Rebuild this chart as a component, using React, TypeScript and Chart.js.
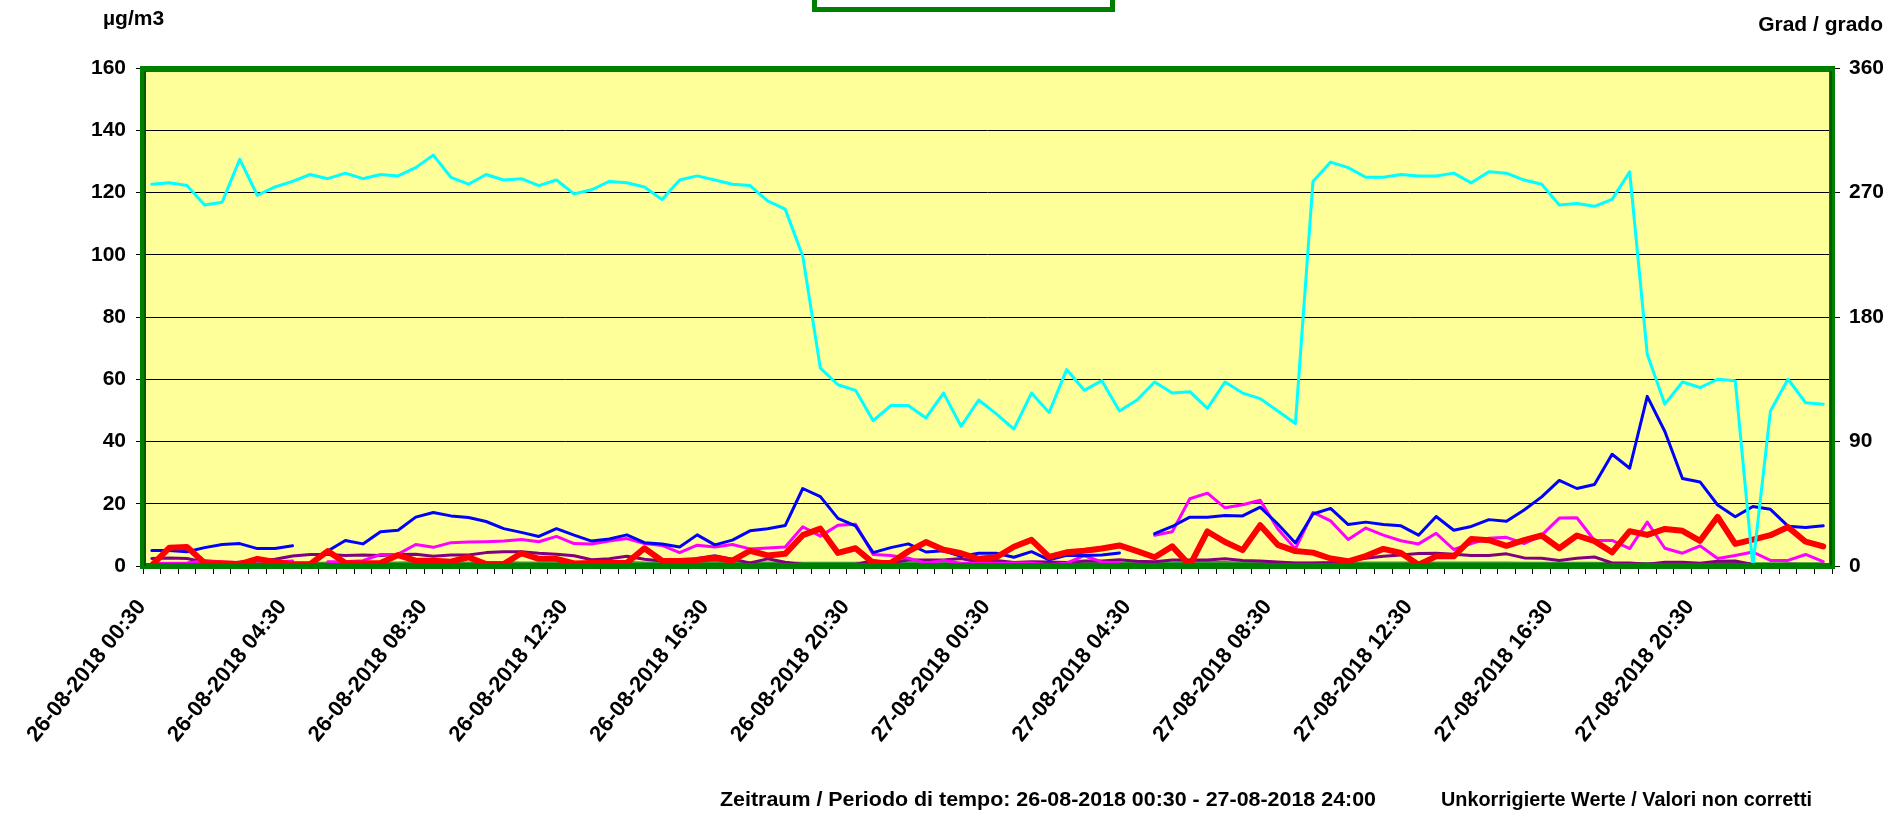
import React, { useEffect, useRef } from "react";
import { Chart, registerables } from "chart.js";

Chart.register(...registerables);

// ---------- data ----------
const days = ["26-08-2018", "27-08-2018"];
const categories: string[] = [];
for (const d of days) {
  for (let k = 1; k <= 48; k++) {
    const mins = k * 30;
    const hh = String(Math.floor(mins / 60)).padStart(2, "0");
    const mm = String(mins % 60).padStart(2, "0");
    categories.push(`${d} ${hh}:${mm}`);
  }
}
const labelEvery = 8;

// wind direction (right axis, degrees)
const windDirection = [
  276, 277, 275, 261, 263, 294, 268, 274, 278, 283, 280, 284, 280, 283, 282, 288, 297, 281, 276, 283, 279, 280, 275, 279,
  269, 272, 278, 277, 274, 265, 279, 282, 279, 276, 275, 264, 258, 224, 143, 131, 127, 105, 116, 116, 107, 125, 101, 120,
  110, 99, 125, 111, 142, 127, 134, 112, 120, 133, 125, 126, 114, 133, 125, 121, 112, 103, 278, 292, 288, 281, 281, 283,
  282, 282, 284, 277, 285, 284, 279, 276, 261, 262, 260, 265, 285, 153, 117, 133, 129, 135, 134, 0, 112, 135, 118, 117,
];

const seriesBlue = [
  5.0, 5.0, 4.6, 5.9, 6.9, 7.2, 5.6, 5.6, 6.5, null, 4.8, 8.2, 7.1, 11.0, 11.5, 15.7, 17.2, 16.1, 15.6, 14.3, 12.0, 10.8, 9.5, 12.0,
  9.9, 8.0, 8.7, 10.0, 7.5, 7.1, 6.1, 10.0, 6.8, 8.3, 11.3, 12.0, 13.0, 24.9, 22.3, 15.3, 12.9, 4.3, 5.9, 7.1, 4.5, 4.9, 3.1, 4.1,
  4.1, 2.8, 4.6, 2.0, 3.4, 3.4, 3.5, 4.2, null, 10.4, 12.7, 15.7, 15.7, 16.2, 16.1, 18.9, 13.5, 7.4, 16.7, 18.5, 13.3, 14.1, 13.3, 12.9,
  9.9, 15.9, 11.5, 12.7, 14.9, 14.4, 18.0, 22.2, 27.5, 24.9, 26.2, 35.9, 31.4, 54.5, 43.2, 28.1, 27.0, 19.6, 15.8, 19.1, 18.2, 12.8, 12.4, 12.9,
];

const seriesMagenta = [
  0.8, 0.9, 1.0, 1.8, 1.3, 1.1, 1.7, 1.2, 1.6, null, 1.4, 1.4, 1.7, 3.7, 3.8, 6.9, 6.0, 7.5, 7.7, 7.8, 8.0, 8.5, 7.8, 9.5,
  7.2, 7.1, 8.0, 8.8, 7.2, 6.6, 4.3, 6.7, 6.1, 6.9, 5.5, 5.8, 6.1, 12.6, 9.6, 13.1, 13.4, 3.7, 3.4, 2.5, 1.0, 1.8, 0.8, 0.9,
  0.8, 1.0, 1.0, 0.4, 0.9, 3.3, 1.3, 1.0, null, 9.9, 11.0, 21.6, 23.4, 18.7, 19.7, 21.1, 11.9, 5.5, 17.2, 14.5, 8.5, 12.2, 9.9, 8.1,
  7.1, 10.5, 5.3, 7.2, 8.9, 9.2, 7.2, 9.9, 15.4, 15.5, 8.2, 8.2, 5.6, 14.1, 5.7, 4.1, 6.5, 2.4, 3.4, 4.5, 1.8, 1.8, 3.7, 1.4,
];

const seriesRed = [
  0.2, 5.9, 6.1, 1.0, 0.9, 0.6, 2.3, 1.3, 0.6, 0.6, 4.8, 1.0, 0.8, 1.0, 3.5, 1.7, 1.7, 1.4, 2.8, 0.6, 0.6, 4.1, 2.3, 2.3,
  0.8, 1.0, 1.0, 1.0, 5.7, 1.7, 1.6, 1.9, 2.6, 1.7, 4.9, 3.4, 3.9, 9.9, 12.0, 4.2, 5.7, 1.0, 1.0, 4.7, 7.7, 5.2, 4.1, 2.3,
  2.8, 6.2, 8.4, 2.9, 4.4, 4.9, 5.6, 6.6, 4.8, 2.8, 6.3, 0.2, 11.1, 7.7, 5.1, 13.1, 6.8, 4.8, 4.3, 2.4, 1.5, 3.2, 5.5, 4.2,
  0.4, 3.1, 3.1, 8.7, 8.3, 6.5, 8.3, 9.8, 5.7, 9.8, 8.0, 4.4, 11.2, 10.0, 11.9, 11.3, 8.1, 15.8, 7.1, 8.5, 9.9, 12.5, 7.8, 6.3,
];

const seriesPurple = [
  2.4, 2.6, 2.4, 1.2, 0.4, 1.3, 1.8, 2.2, 3.2, 3.7, 3.7, 3.4, 3.5, 3.4, 3.7, 3.8, 3.1, 3.5, 3.5, 4.3, 4.6, 4.6, 4.1, 3.8,
  3.3, 2.0, 2.3, 3.1, 2.2, 1.6, 0.9, 2.4, 3.3, 2.2, 1.0, 2.3, 1.2, 0.5, 0.4, 0.4, 0.5, 1.8, 1.1, 1.9, 1.9, 1.9, 2.4, 1.3,
  1.8, 1.1, 1.4, 1.3, 1.1, 1.6, 1.6, 2.0, 1.5, 1.4, 1.9, 1.9, 1.9, 2.3, 1.8, 1.6, 1.3, 1.0, 1.0, 1.1, 1.7, 2.5, 3.1, 3.5,
  4.0, 4.1, 3.8, 3.4, 3.4, 3.9, 2.6, 2.5, 1.8, 2.5, 2.9, 1.0, 1.0, 0.6, 1.2, 1.2, 0.9, 1.5, 1.6, 0.5, 0.4, 0.6, 0.5, 0.5,
];

const seriesGreen = [
  0.6, 0.6, 0.7, 0.8, 0.8, 0.7, 0.8, 0.8, 0.9, 0.9, 0.9, 1.0, 1.0, 1.0, 1.0, 1.1, 1.0, 1.0, 1.0, 1.1, 1.1, 1.0, 1.0, 1.0,
  1.0, 1.0, 1.1, 1.1, 1.0, 1.0, 1.0, 1.0, 1.1, 1.1, 1.0, 1.0, 1.0, 0.9, 0.9, 0.9, 0.9, 1.0, 1.0, 1.0, 1.0, 1.0, 0.9, 0.9,
  0.9, 0.9, 0.9, 0.9, 1.0, 1.0, 1.0, 1.0, 1.0, 1.0, 1.0, 1.1, 1.1, 1.1, 1.0, 1.0, 1.0, 0.9, 0.9, 1.0, 1.0, 1.0, 1.0, 1.0,
  1.0, 1.0, 1.0, 1.0, 1.0, 1.0, 0.9, 0.9, 0.9, 0.9, 0.9, 0.8, 0.8, 0.8, 0.8, 0.8, 0.8, 0.8, 0.8, 0.7, 0.7, 0.7, 0.7, 0.7,
];

const leftTitle = "µg/m3";
const rightTitle = "Grad / grado";
const footerPeriod = "Zeitraum / Periodo di tempo: 26-08-2018 00:30 - 27-08-2018 24:00";
const footerNote = "Unkorrigierte Werte / Valori non corretti";

const FONT_FAMILY = "'Liberation Sans', Arial, Helvetica, sans-serif";

function fitText(ctx: CanvasRenderingContext2D, text: string, x: number, y: number, width: number) {
  const w = ctx.measureText(text).width;
  const sx = width / w;
  ctx.save();
  ctx.translate(x, y);
  ctx.scale(sx, 1);
  ctx.textAlign = "left";
  ctx.fillText(text, 0, 0);
  ctx.restore();
}

const decorPlugin = {
  id: "decor",
  beforeDraw(chart: any) {
    const { ctx, chartArea } = chart;
    ctx.save();
    ctx.fillStyle = "#ffffff";
    ctx.fillRect(0, 0, chart.width, chart.height);
    ctx.fillStyle = "#FFFF99";
    ctx.fillRect(chartArea.left, chartArea.top, chartArea.right - chartArea.left, chartArea.bottom - chartArea.top);
    ctx.restore();
  },
  afterDatasetsDraw(chart: any) {
    const { ctx, chartArea } = chart;
    const { left, top, right, bottom } = chartArea;
    ctx.save();
    ctx.strokeStyle = "#008000";
    ctx.lineWidth = 6;
    ctx.strokeRect(left, top + 1, right - left, bottom - top - 1);
    ctx.strokeStyle = "#005a00";
    ctx.lineWidth = 2;
    ctx.beginPath();
    ctx.moveTo(left + 2, top + 3);
    ctx.lineTo(left + 2, bottom);
    ctx.moveTo(right - 1, top + 3);
    ctx.lineTo(right - 1, bottom);
    ctx.stroke();
    ctx.restore();
  },
  afterDraw(chart: any) {
    const { ctx } = chart;
    ctx.save();
    // top (cut off) box
    ctx.strokeStyle = "#008000";
    ctx.lineWidth = 5;
    ctx.strokeRect(814.5, -20, 298, 29.5);
    ctx.fillStyle = "#000";
    ctx.font = `bold 21px ${FONT_FAMILY}`;
    ctx.textBaseline = "alphabetic";
    ctx.textAlign = "left";
    ctx.fillText(leftTitle, 103, 25);
    ctx.textAlign = "right";
    ctx.fillText(rightTitle, 1883, 31);
    ctx.font = `bold 20px ${FONT_FAMILY}`;
    fitText(ctx, footerPeriod, 720, 806, 656);
    fitText(ctx, footerNote, 1441, 806, 371);
    ctx.restore();
  },
};

export default function App() {
  const ref = useRef<HTMLCanvasElement | null>(null);

  useEffect(() => {
    document.body.style.margin = "0";
    const canvas = ref.current;
    if (!canvas) return;
    const tickFont = { family: FONT_FAMILY, size: 21, weight: "bold" as const, lineHeight: 1 };
    const xTickFont = { family: FONT_FAMILY, size: 22, weight: "bold" as const, lineHeight: 1 };
    const chart = new Chart(canvas, {
      type: "line",
      data: {
        labels: categories,
        datasets: [
          { label: "Windrichtung", data: windDirection, yAxisID: "y2", borderColor: "#00FFFF", borderWidth: 3, order: 0 },
          { label: "Rot", data: seriesRed, yAxisID: "y", borderColor: "#FF0000", borderWidth: 6, order: 1 },
          { label: "Blau", data: seriesBlue, yAxisID: "y", borderColor: "#0000FF", borderWidth: 3, order: 2 },
          { label: "Magenta", data: seriesMagenta, yAxisID: "y", borderColor: "#FF00FF", borderWidth: 3, order: 3 },
          { label: "Violett", data: seriesPurple, yAxisID: "y", borderColor: "#800080", borderWidth: 3, order: 4 },
          { label: "Grün", data: seriesGreen, yAxisID: "y", borderColor: "#339933", borderWidth: 3, order: 5 },
        ],
      },
      options: {
        responsive: false,
        maintainAspectRatio: false,
        animation: false,
        spanGaps: false,
        layout: { padding: { left: 0, right: 0, top: 68, bottom: 0 } },
        elements: { point: { radius: 0 }, line: { tension: 0, borderJoinStyle: "round", borderCapStyle: "round" } },
        plugins: { legend: { display: false }, tooltip: { enabled: false }, title: { display: false } },
        scales: {
          x: {
            type: "category",
            offset: true,
            grid: { offset: true, drawOnChartArea: false, tickLength: 8, tickColor: "#000", tickWidth: 1 },
            border: { display: false },
            ticks: {
              autoSkip: false,
              maxRotation: 51,
              minRotation: 51,
              padding: 22,
              labelOffset: -10,
              color: "#000",
              font: xTickFont,
              callback: (_v: any, i: number) => (i % labelEvery === 0 ? categories[i] : ""),
            },
            afterFit: (s: any) => {
              s.height = 815 - 566;
            },
          },
          y: {
            position: "left",
            min: 0,
            max: 160,
            ticks: { stepSize: 20, padding: 10, color: "#000", font: tickFont },
            grid: { color: "#000", lineWidth: 1, tickLength: 7, tickColor: "#000" },
            border: { display: false },
            afterFit: (s: any) => {
              s.width = 143;
            },
          },
          y2: {
            position: "right",
            min: 0,
            max: 360,
            ticks: { stepSize: 90, padding: 9, color: "#000", font: tickFont },
            grid: { drawOnChartArea: false, tickLength: 8, tickColor: "#000" },
            border: { display: false },
            afterFit: (s: any) => {
              s.width = 72;
            },
          },
        },
      },
      plugins: [decorPlugin],
    });
    return () => chart.destroy();
  }, []);

  return (
    <div style={{ width: 1904, height: 815, position: "relative" }}>
      <canvas ref={ref} width={1904} height={815} style={{ display: "block", width: 1904, height: 815 }} />
    </div>
  );
}
